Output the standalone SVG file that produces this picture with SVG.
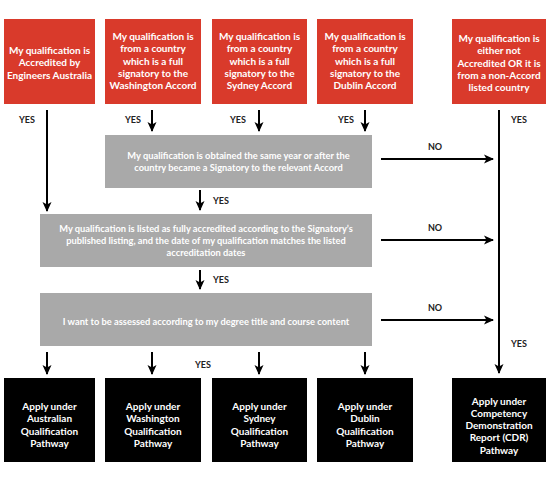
<svg xmlns="http://www.w3.org/2000/svg" width="558" height="479" viewBox="0 0 558 479">
<style>
.red{fill:#d93a2b}
.gray{fill:#a9a9a9}
.blk{fill:#000}
.t{font-family:Lato,"Open Sans","Liberation Sans",sans-serif;font-weight:bold;font-size:10px;fill:#fff;text-anchor:middle}
.g{font-family:Lato,"Open Sans","Liberation Sans",sans-serif;font-weight:bold;font-size:9.3px;fill:#fff;text-anchor:middle}
.lbl{font-family:Lato,"Open Sans","Liberation Sans",sans-serif;font-weight:bold;font-size:9px;fill:#222;text-anchor:middle}
.ln{stroke:#000;stroke-width:2;fill:none}
</style>
<defs>
<marker id="ah" markerUnits="userSpaceOnUse" markerWidth="10" markerHeight="10" viewBox="0 0 10 10" refX="9" refY="5" orient="auto">
<path d="M0,0.5 L10,5 L0,9.5 L2.5,5 Z" fill="#000"/>
</marker>
</defs>
<rect width="558" height="479" fill="#fff"/>

<g id="top1"><rect class="red" x="4" y="19" width="91" height="85"/>
<text class="t"><tspan x="49.5" y="54">My qualification is</tspan><tspan x="49.5" y="66.3">Accredited by</tspan><tspan x="49.5" y="78.6">Engineers Australia</tspan></text></g>
<g id="top2"><rect class="red" x="105" y="19" width="96" height="85"/>
<text class="t"><tspan x="153" y="40">My qualification is</tspan><tspan x="153" y="52.3">from a country</tspan><tspan x="153" y="64.6">which is a full</tspan><tspan x="153" y="76.9">signatory to the</tspan><tspan x="153" y="89.2">Washington Accord</tspan></text></g>
<g id="top3"><rect class="red" x="212" y="19" width="95" height="85"/>
<text class="t"><tspan x="259.5" y="40">My qualification is</tspan><tspan x="259.5" y="52.3">from a country</tspan><tspan x="259.5" y="64.6">which is a full</tspan><tspan x="259.5" y="76.9">signatory to the</tspan><tspan x="259.5" y="89.2">Sydney Accord</tspan></text></g>
<g id="top4"><rect class="red" x="317" y="19" width="96" height="85"/>
<text class="t"><tspan x="365" y="40">My qualification is</tspan><tspan x="365" y="52.3">from a country</tspan><tspan x="365" y="64.6">which is a full</tspan><tspan x="365" y="76.9">signatory to the</tspan><tspan x="365" y="89.2">Dublin Accord</tspan></text></g>
<g id="top5"><rect class="red" x="452" y="19" width="94" height="85"/>
<text class="t"><tspan x="499" y="42">My qualification is</tspan><tspan x="499" y="54.3">either not</tspan><tspan x="499" y="66.6">Accredited OR it is</tspan><tspan x="499" y="78.9">from a non-Accord</tspan><tspan x="499" y="91.2">listed country</tspan></text></g>

<g id="q1"><rect class="gray" x="105" y="135" width="267" height="53"/>
<text class="g"><tspan x="238.5" y="158.5">My qualification is obtained the same year or after the</tspan><tspan x="238.5" y="170.5">country became a Signatory to the relevant Accord</tspan></text></g>
<g id="q2"><rect class="gray" x="40" y="214" width="332" height="53"/>
<text class="g"><tspan x="206" y="231.5">My qualification is listed as fully accredited according to the Signatory’s</tspan><tspan x="206" y="243.5">published listing, and the date of my qualification matches the listed</tspan><tspan x="206" y="256">accreditation dates</tspan></text></g>
<g id="q3"><rect class="gray" x="40" y="293" width="332" height="53"/>
<text class="g"><tspan x="206" y="324.5">I want to be assessed according to my degree title and course content</tspan></text></g>

<g id="out1"><rect class="blk" x="4" y="378" width="91" height="84"/>
<text class="t"><tspan x="49.5" y="410">Apply under</tspan><tspan x="49.5" y="422.3">Australian</tspan><tspan x="49.5" y="434.6">Qualification</tspan><tspan x="49.5" y="446.9">Pathway</tspan></text></g>
<g id="out2"><rect class="blk" x="105" y="378" width="96" height="84"/>
<text class="t"><tspan x="153" y="410">Apply under</tspan><tspan x="153" y="422.3">Washington</tspan><tspan x="153" y="434.6">Qualification</tspan><tspan x="153" y="446.9">Pathway</tspan></text></g>
<g id="out3"><rect class="blk" x="212" y="378" width="95" height="84"/>
<text class="t"><tspan x="259.5" y="410">Apply under</tspan><tspan x="259.5" y="422.3">Sydney</tspan><tspan x="259.5" y="434.6">Qualification</tspan><tspan x="259.5" y="446.9">Pathway</tspan></text></g>
<g id="out4"><rect class="blk" x="317" y="378" width="96" height="84"/>
<text class="t"><tspan x="365" y="410">Apply under</tspan><tspan x="365" y="422.3">Dublin</tspan><tspan x="365" y="434.6">Qualification</tspan><tspan x="365" y="446.9">Pathway</tspan></text></g>
<g id="out5"><rect class="blk" x="452" y="378" width="94" height="84"/>
<text class="t"><tspan x="499" y="404.5">Apply under</tspan><tspan x="499" y="416.8">Competency</tspan><tspan x="499" y="429.1">Demonstration</tspan><tspan x="499" y="441.4">Report (CDR)</tspan><tspan x="499" y="453.7">Pathway</tspan></text></g>

<g id="connectors">
<line class="ln" x1="47" y1="110" x2="47" y2="211" marker-end="url(#ah)"/>
<line class="ln" x1="152" y1="110" x2="152" y2="131" marker-end="url(#ah)"/>
<line class="ln" x1="259" y1="110" x2="259" y2="131" marker-end="url(#ah)"/>
<line class="ln" x1="365" y1="110" x2="365" y2="131" marker-end="url(#ah)"/>
<line class="ln" x1="499" y1="110" x2="499" y2="373" marker-end="url(#ah)"/>
<line class="ln" x1="381" y1="159" x2="493" y2="159" marker-end="url(#ah)"/>
<line class="ln" x1="381" y1="240" x2="493" y2="240" marker-end="url(#ah)"/>
<line class="ln" x1="381" y1="320" x2="493" y2="320" marker-end="url(#ah)"/>
<line class="ln" x1="200" y1="190" x2="200" y2="210" marker-end="url(#ah)"/>
<line class="ln" x1="200" y1="270" x2="200" y2="289" marker-end="url(#ah)"/>
<line class="ln" x1="47" y1="352" x2="47" y2="374" marker-end="url(#ah)"/>
<line class="ln" x1="152" y1="352" x2="152" y2="374" marker-end="url(#ah)"/>
<line class="ln" x1="259" y1="352" x2="259" y2="374" marker-end="url(#ah)"/>
<line class="ln" x1="365" y1="352" x2="365" y2="374" marker-end="url(#ah)"/>
<text class="lbl" x="27" y="122.5">YES</text>
<text class="lbl" x="133" y="122.5">YES</text>
<text class="lbl" x="238" y="122.5">YES</text>
<text class="lbl" x="346" y="122.5">YES</text>
<text class="lbl" x="519" y="122.5">YES</text>
<text class="lbl" x="519" y="346.5">YES</text>
<text class="lbl" x="435" y="150">NO</text>
<text class="lbl" x="435" y="231">NO</text>
<text class="lbl" x="435" y="310.5">NO</text>
<text class="lbl" x="221" y="204">YES</text>
<text class="lbl" x="221" y="282.5">YES</text>
<text class="lbl" x="203" y="367.5">YES</text>
</g>
</svg>
